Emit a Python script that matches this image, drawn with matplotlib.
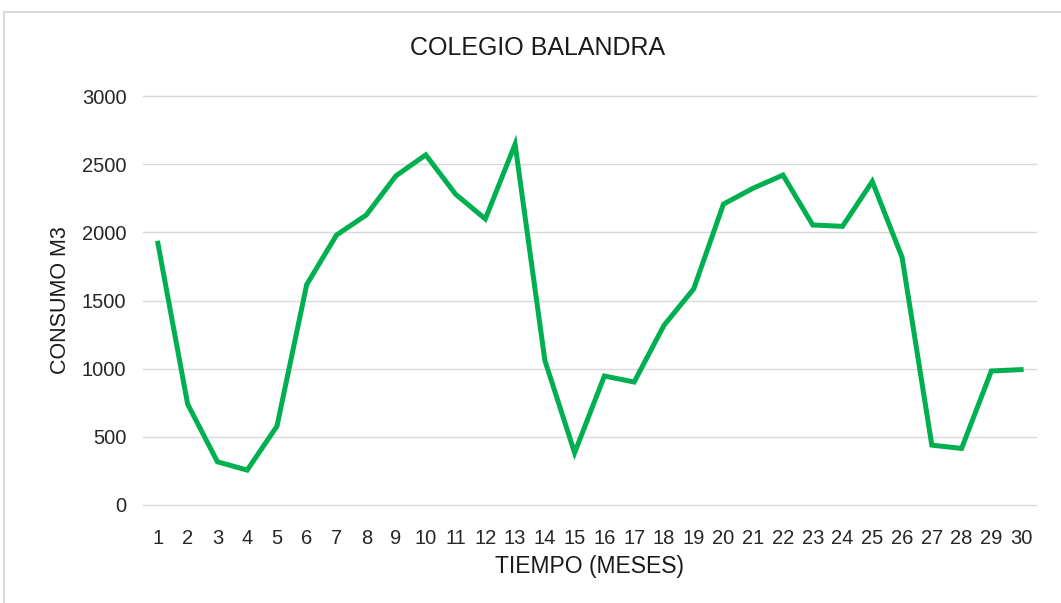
import matplotlib.pyplot as plt
from matplotlib.patches import Rectangle

plt.rcParams['font.family'] = ['Liberation Sans', 'DejaVu Sans']

meses = list(range(1, 31))
consumo = [1920, 740, 317, 256, 578, 1617, 1980, 2127, 2415, 2568,
           2280, 2098, 2646, 1061, 383, 946, 902, 1317, 1585, 2207,
           2324, 2420, 2054, 2044, 2373, 1817, 439, 415, 983, 993]
yticks = [0, 500, 1000, 1500, 2000, 2500, 3000]

fig = plt.figure(figsize=(10.61, 6.03), dpi=100)
fig.patches.append(Rectangle((4/1061, -0.01), 1.0, 1 - 12/603 + 0.01,
                             transform=fig.transFigure, fill=False,
                             edgecolor='#d9d9d9', linewidth=1.5))
ax = fig.add_axes([143/1061, 1 - 505/603, (1036 - 143)/1061, (505 - 96)/603])

ax.plot(meses, consumo, color='#00b050', linewidth=3.6, solid_joinstyle='miter')

ax.set_xlim(0.5, 30.5)
ax.set_ylim(0, 3000)
ax.set_xticks(meses)
ax.set_yticks(yticks)
ax.grid(axis='y', color='#d9d9d9', linewidth=1)
for gl in ax.get_ygridlines():
    gl.set_clip_on(False)
ax.set_axisbelow(True)
for s in ax.spines.values():
    s.set_visible(False)
ax.tick_params(axis='both', length=0, labelsize=14.5, colors='#262626')
ax.tick_params(axis='x', pad=17)
ax.tick_params(axis='y', pad=12)

fig.text(538/1061, 1 - 48/603, 'COLEGIO BALANDRA', fontsize=18,
         color='#1a1a1a', ha='center', va='center')
ax.set_xlabel('TIEMPO (MESES)', fontsize=16.5, color='#1a1a1a', labelpad=5)
ax.set_ylabel('CONSUMO M3', fontsize=15.5, color='#1a1a1a', labelpad=8)

fig.savefig('out.png', dpi=100)
